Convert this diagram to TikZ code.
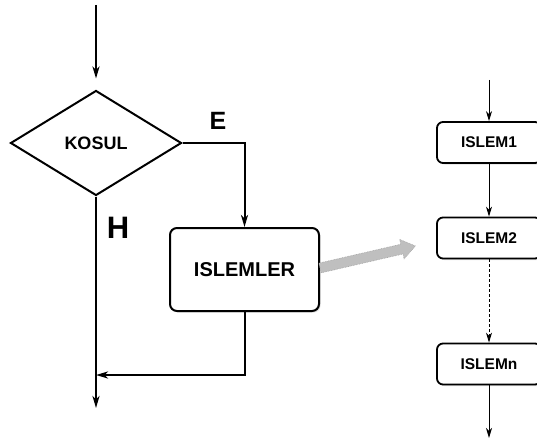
\documentclass[tikz,border=0pt]{standalone}
\usepackage{fontspec}
\setmainfont{Liberation Sans}
\usetikzlibrary{shapes.geometric,arrows.meta,shadows}
\begin{document}
\begin{tikzpicture}[x=1pt,y=-1pt,
  thickline/.style={line width=2pt},
  thinline/.style={line width=1pt},
  bigtip/.style={-{Stealth[length=12pt,width=7pt,inset=3.5pt]}},
  smalltip/.style={-{Stealth[length=10pt,width=6pt,inset=3pt]}},
  bigbox/.style={draw, rectangle, rounded corners=7pt, line width=2pt, fill=white,
     minimum width=149pt, minimum height=83pt, inner sep=0pt,
     drop shadow={shadow xshift=1.5pt, shadow yshift=-1.5pt, opacity=0.25}},
  smallbox/.style={draw, rectangle, rounded corners=6pt, line width=1.8pt, fill=white,
     minimum width=104pt, minimum height=41pt, inner sep=0pt,
     drop shadow={shadow xshift=1.5pt, shadow yshift=-1.5pt, opacity=0.25},
     font=\fontsize{15.5}{18}\selectfont\bfseries},
  lbl/.style={font=\bfseries, inner sep=0pt}
]
\clip (0,0) rectangle (537,441);
\fill[white] (0,0) rectangle (537,441);

% left flowchart
\coordinate (top) at (96,5);
\node[draw, diamond, line width=2pt, minimum width=171pt, minimum height=105pt, aspect=1.63, inner sep=0pt,
      font=\fontsize{18}{20}\selectfont\bfseries] (kosul) at (96,143) {KOSUL};
\node[bigbox, font=\fontsize{20}{22}\selectfont\bfseries] (isl) at (244.5,269.5) {ISLEMLER};
\coordinate (join) at (96,375);
\coordinate (bot) at (96,408);

\draw[thickline, bigtip, shorten >=11pt] (top) -- (kosul.north);
\draw[thickline, bigtip] (kosul.east) -| (isl.north);
\draw[thickline, bigtip] (kosul.south) -- (bot);
\draw[thickline, bigtip] (isl.south) |- (join);

\node[lbl, font=\fontsize{25}{27}\selectfont\bfseries] (elbl) at (218,121) {E};
\node[lbl, font=\fontsize{31}{33}\selectfont\bfseries] (hlbl) at (118,228) {H};

% right flowchart
\coordinate (rtop) at (489,80);
\node[smallbox] (i1) at (489,142.5) {ISLEM1};
\node[smallbox] (i2) at (489,238) {ISLEM2};
\node[smallbox] (in) at (489,364) {ISLEMn};
\coordinate (rbot) at (489,438);

\draw[thinline, smalltip] (rtop) -- (i1.north);
\draw[thinline, smalltip] (i1.south) -- (i2.north);
\draw[thinline, smalltip, densely dashed] (i2.south) -- (in.north);
\draw[thinline, smalltip] (in.south) -- (rbot);

% grey block arrow
\begin{scope}[shift={(320,268)}, rotate=13]
  \draw[fill=gray!50, draw=gray!75, line width=0.6pt, densely dotted]
    (0,-5) -- (84,-5) -- (84,-10) -- (98,0) -- (84,10) -- (84,5) -- (0,5) -- cycle;
\end{scope}
\end{tikzpicture}
\end{document}
